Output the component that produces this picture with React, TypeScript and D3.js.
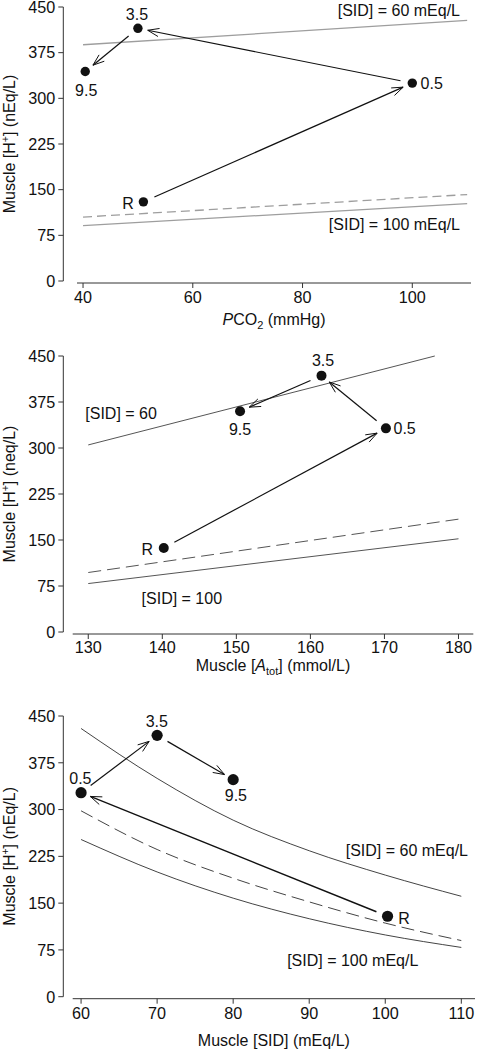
import React from "react";
import * as d3 from "d3";

// ---------- DATA ----------
const phaseLabels = ["R", "0.5", "3.5", "9.5"];
const yTicks = [0, 75, 150, 225, 300, 375, 450];

// Panel 1: PCO2
const p1XTicks = [40, 60, 80, 100];
const p1PCO2 = [51, 100, 50, 40.4];
const p1H = [130, 325, 415, 344];
const p1LineX = [40, 110];
const p1Sid60 = [388, 428];
const p1Dashed = [105, 142];
const p1Sid100 = [91, 127];

// Panel 2: Atot
const p2XTicks = [130, 140, 150, 160, 170, 180];
const p2Atot = [140.2, 170.2, 161.5, 150.5];
const p2H = [137, 332, 418, 360];
const p2Sid60X = [130, 176.8];
const p2Sid60 = [305, 450];
const p2LineX = [130, 180];
const p2Dashed = [97, 184];
const p2Sid100 = [79, 152];

// Panel 3: SID
const p3XTicks = [60, 70, 80, 90, 100, 110];
const p3SID = [100.3, 60, 70, 80];
const p3H = [129, 327, 419, 348];
const p3CurveX = [60, 70, 80, 90, 100, 110];
const p3Sid60 = [430, 350, 283, 234, 195, 161];
const p3Dashed = [298, 236, 190, 152, 118, 90];
const p3Sid100 = [252, 200, 158, 125, 99, 79];

// arrows: indices into points (R->0.5, 0.5->3.5, 3.5->9.5)
const arrowPairs = [[0, 1], [1, 2], [2, 3]];

const FONT = "'Liberation Sans', Arial, Helvetica, sans-serif";
const TICK_FS = 16.2;
const LABEL_FS = 16;
const TITLE_FS = 16;

type Series = { xs: number[]; ys: number[]; dashed?: boolean };

type PanelProps = {
  xDomain: [number, number];
  xRange: [number, number];
  yRange: [number, number];
  axisY: number;
  tickLabelOffset: number;
  xTicks: number[];
  series: Series[];
  lineColor: string;
  lineWidth: number;
  dash: string;
  px: number[];
  py: number[];
  dotR: number;
  labelPlace: Record<string, [number, number, string]>;
  sidLabels: { text: string; x: number; y: number; anchor: string }[];
  xTitle: React.ReactNode;
  xTitleY: number;
  yTitle: React.ReactNode;
  arrowWidths: number[];
};

function Panel(p: PanelProps) {
  const x = d3.scaleLinear().domain(p.xDomain).range(p.xRange);
  const y = d3.scaleLinear().domain([0, 450]).range(p.yRange);
  const line = d3
    .line<[number, number]>()
    .x((d) => x(d[0]))
    .y((d) => y(d[1]))
    .curve(d3.curveMonotoneX);
  const axX = 63.3;
  const yMid = (p.yRange[0] + p.yRange[1]) / 2;
  const xMid = (p.xRange[0] + p.xRange[1]) / 2;

  const arrows = arrowPairs.map(([a, b], i) => {
    const x1 = x(p.px[a]), y1 = y(p.py[a]);
    const x2 = x(p.px[b]), y2 = y(p.py[b]);
    const dx = x2 - x1, dy = y2 - y1;
    const len = Math.hypot(dx, dy);
    const ux = dx / len, uy = dy / len;
    const sx = x1 + ux * 12, sy = y1 + uy * 12;
    const ex = x2 - ux * 10, ey = y2 - uy * 10;
    const hl = 12, ang = (20 * Math.PI) / 180;
    const rot = (vx: number, vy: number, t: number) => [
      vx * Math.cos(t) - vy * Math.sin(t),
      vx * Math.sin(t) + vy * Math.cos(t),
    ];
    const [ax1, ay1] = rot(-ux, -uy, ang);
    const [ax2, ay2] = rot(-ux, -uy, -ang);
    return (
      <g key={i} stroke="#111" strokeWidth={p.arrowWidths[i]} fill="none">
        <line x1={sx} y1={sy} x2={ex} y2={ey} />
        <path
          d={`M${ex + ax1 * hl},${ey + ay1 * hl}L${ex},${ey}L${ex + ax2 * hl},${ey + ay2 * hl}`}
          strokeWidth={1}
        />
      </g>
    );
  });

  return (
    <g fontFamily={FONT}>
      {/* y axis */}
      <line x1={axX} x2={axX} y1={y(0)} y2={y(450)} stroke="#333" />
      {yTicks.map((t) => (
        <g key={t}>
          <line x1={axX - 5} x2={axX} y1={y(t)} y2={y(t)} stroke="#333" />
          <text x={axX - 8} y={y(t)} dy="0.36em" textAnchor="end" fontSize={TICK_FS} fill="#111">
            {t}
          </text>
        </g>
      ))}
      {/* x axis */}
      <line x1={p.xRange[0]} x2={p.xRange[1]} y1={p.axisY} y2={p.axisY} stroke="#333" />
      {p.xTicks.map((t) => (
        <g key={t}>
          <line x1={x(t)} x2={x(t)} y1={p.axisY} y2={p.axisY + 5} stroke="#333" />
          <text
            x={x(t)}
            y={p.axisY + p.tickLabelOffset}
            textAnchor="middle"
            fontSize={TICK_FS}
            fill="#111"
          >
            {t}
          </text>
        </g>
      ))}
      {/* titles */}
      <text x={xMid} y={p.xTitleY} textAnchor="middle" fontSize={TITLE_FS} fill="#111">
        {p.xTitle}
      </text>
      <text
        transform={`translate(14.5,${yMid}) rotate(-90)`}
        textAnchor="middle"
        fontSize={TITLE_FS}
        fill="#111"
      >
        {p.yTitle}
      </text>
      {/* curves */}
      {p.series.map((s, i) => (
        <path
          key={i}
          d={line(s.xs.map((v, j) => [v, s.ys[j]] as [number, number])) || ""}
          fill="none"
          stroke={p.lineColor}
          strokeWidth={p.lineWidth}
          strokeDasharray={s.dashed ? p.dash : undefined}
        />
      ))}
      {p.sidLabels.map((l, i) => (
        <text key={i} x={x(l.x)} y={y(l.y)} textAnchor={l.anchor as any} fontSize={LABEL_FS} fill="#111">
          {l.text}
        </text>
      ))}
      {arrows}
      {/* points */}
      {p.px.map((v, i) => {
        const cx = x(v), cy = y(p.py[i]);
        const [ox, oy, anchor] = p.labelPlace[phaseLabels[i]];
        return (
          <g key={i}>
            <circle cx={cx} cy={cy} r={p.dotR} fill="#111" />
            <text x={cx + ox} y={cy + oy} textAnchor={anchor as any} fontSize={LABEL_FS} fill="#111">
              {phaseLabels[i]}
            </text>
          </g>
        );
      })}
    </g>
  );
}

const hPlus = (unit: string) => (
  <>
    Muscle [H
    <tspan fontSize={10.5} dy={-6}>+</tspan>
    <tspan dy={6}>] ({unit})</tspan>
  </>
);

export default function App() {
  return (
    <svg
      width={477}
      height={1050}
      style={{ position: "absolute", left: 0, top: 0, background: "#fff" }}
    >
      <rect width={477} height={1050} fill="#fff" />
      <Panel
        xDomain={[38.9, 110.7]}
        xRange={[77, 471]}
        yRange={[281, 7]}
        axisY={283}
        tickLabelOffset={20}
        xTicks={p1XTicks}
        series={[
          { xs: p1LineX, ys: p1Sid60 },
          { xs: p1LineX, ys: p1Dashed, dashed: true },
          { xs: p1LineX, ys: p1Sid100 },
        ]}
        lineColor="#9e9e9e"
        lineWidth={1.3}
        dash="9,5"
        px={p1PCO2}
        py={p1H}
        dotR={4.7}
        labelPlace={{
          R: [-9.5, 6.7, "end"],
          "0.5": [8.3, 5.5, "start"],
          "3.5": [-1, -8, "middle"],
          "9.5": [1, 24, "middle"],
        }}
        sidLabels={[
          { text: "[SID] = 60 mEq/L", x: 108.7, y: 435, anchor: "end" },
          { text: "[SID] = 100 mEq/L", x: 108.7, y: 83.5, anchor: "end" },
        ]}
        xTitle={
          <>
            <tspan fontStyle="italic">P</tspan>CO
            <tspan fontSize={11} dy={4}>2</tspan>
            <tspan dy={-4}> (mmHg)</tspan>
          </>
        }
        xTitleY={325}
        yTitle={hPlus("nEq/L")}
        arrowWidths={[1.2, 1.2, 1.2]}
      />
      <Panel
        xDomain={[127.9, 182]}
        xRange={[72.7, 473.3]}
        yRange={[632, 356]}
        axisY={634}
        tickLabelOffset={19}
        xTicks={p2XTicks}
        series={[
          { xs: p2Sid60X, ys: p2Sid60 },
          { xs: p2LineX, ys: p2Dashed, dashed: true },
          { xs: p2LineX, ys: p2Sid100 },
        ]}
        lineColor="#555"
        lineWidth={1}
        dash="13,6"
        px={p2Atot}
        py={p2H}
        dotR={5}
        labelPlace={{
          R: [-10.7, 7, "end"],
          "0.5": [7.6, 6, "start"],
          "3.5": [1.6, -10, "middle"],
          "9.5": [0, 24, "middle"],
        }}
        sidLabels={[
          { text: "[SID] = 60", x: 129.6, y: 346.7, anchor: "start" },
          { text: "[SID] = 100", x: 137.2, y: 45, anchor: "start" },
        ]}
        xTitle={
          <>
            Muscle [<tspan fontStyle="italic">A</tspan>
            <tspan fontSize={11} dy={4}>tot</tspan>
            <tspan dy={-4}>] (mmol/L)</tspan>
          </>
        }
        xTitleY={671}
        yTitle={hPlus("neq/L")}
        arrowWidths={[1.2, 1.2, 1.2]}
      />
      <Panel
        xDomain={[58.9, 111.8]}
        xRange={[72.7, 475]}
        yRange={[996.7, 716]}
        axisY={998.7}
        tickLabelOffset={20}
        xTicks={p3XTicks}
        series={[
          { xs: p3CurveX, ys: p3Sid60 },
          { xs: p3CurveX, ys: p3Dashed, dashed: true },
          { xs: p3CurveX, ys: p3Sid100 },
        ]}
        lineColor="#444"
        lineWidth={1}
        dash="13,6"
        px={p3SID}
        py={p3H}
        dotR={5.6}
        labelPlace={{
          R: [10.6, 7.3, "start"],
          "0.5": [-0.7, -9, "middle"],
          "3.5": [-0.3, -8.6, "middle"],
          "9.5": [2.7, 21.7, "middle"],
        }}
        sidLabels={[
          { text: "[SID] = 60 mEq/L", x: 94.8, y: 226, anchor: "start" },
          { text: "[SID] = 100 mEq/L", x: 87.1, y: 49.2, anchor: "start" },
        ]}
        xTitle={<>Muscle [SID] (mEq/L)</>}
        xTitleY={1046}
        yTitle={hPlus("nEq/L")}
        arrowWidths={[1.4, 1.2, 1.2]}
      />
    </svg>
  );
}
